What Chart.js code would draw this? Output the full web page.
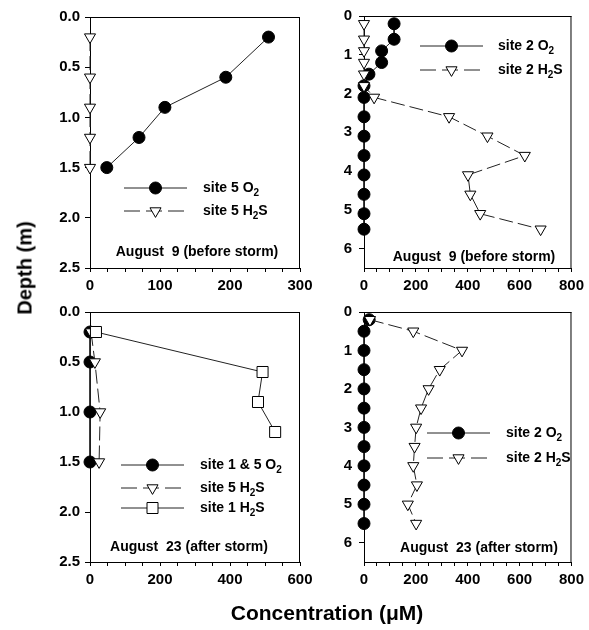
<!DOCTYPE html>
<html>
<head>
<meta charset="utf-8">
<script src="https://cdn.jsdelivr.net/npm/chart.js@4"></script>
<style>
  body { margin: 0; background: #fff; }
  #wrap { position: relative; width: 589px; height: 630px; background: #fff; }
  #wrap canvas { position: absolute; left: 0; top: 0; }
  .titulo { position: absolute; font: bold 20px "Liberation Sans", Arial, sans-serif; color: #000; white-space: nowrap; }
  #yTitle { left: 25px; top: 268px; transform: translate(-50%, -50%) rotate(-90deg); }
  #xTitle { left: 327px; top: 613px; transform: translate(-50%, -50%); font-size: 21px; }
</style>
</head>
<body>
<div id="wrap">
  <canvas id="p1" width="589" height="630"></canvas>
  <canvas id="p2" width="589" height="630"></canvas>
  <canvas id="p3" width="589" height="630"></canvas>
  <canvas id="p4" width="589" height="630"></canvas>
  <div class="titulo" id="yTitle">Depth (m)</div>
  <div class="titulo" id="xTitle">Concentration (μM)</div>
</div>
<script>
// --- datos ---

// arriba izquierda: sitio 5, 9 de agosto
const depthS5Aug9 = [0.2, 0.6, 0.9, 1.2, 1.5];
const o2S5Aug9 = [255, 194, 107, 70, 24];
const h2sS5Aug9 = [0, 0, 0, 0, 0];

// arriba derecha: sitio 2, 9 de agosto
const depthS2Aug9 = [0.2, 0.6, 0.9, 1.2, 1.5, 1.8, 2.1, 2.6, 3.1, 3.6, 4.1, 4.6, 5.1, 5.5];
const o2S2Aug9 = [116, 116, 68, 68, 19, 0, 0, 0, 0, 0, 0, 0, 0, 0];
const h2sS2Aug9 = [0, 0, 0, 0, 0, 0, 39, 328, 476, 620, 401, 410, 448, 681];

// abajo izquierda: sitios 1 y 5, 23 de agosto
const depthS5Aug23 = [0.2, 0.5, 1.0, 1.5];
const o2S15Aug23 = [0, 0, 0, 0];
const h2sS5Aug23 = [3, 14, 29, 26];
const depthS1Aug23 = [0.2, 0.6, 0.9, 1.2];
const h2sS1Aug23 = [17, 493, 480, 529];

// abajo derecha: sitio 2, 23 de agosto
const depthS2Aug23 = [0.2, 0.5, 1.0, 1.5, 2.0, 2.5, 3.0, 3.5, 4.0, 4.5, 5.0, 5.5];
const o2S2Aug23 = [20, 0, 0, 0, 0, 0, 0, 0, 0, 0, 0, 0];
const h2sS2Aug23 = [23, 190, 378, 292, 249, 220, 201, 195, 190, 204, 169, 201];

// ejes
const shallowDepthTicks = [0, 0.5, 1.0, 1.5, 2.0, 2.5];
const deepDepthTicks = [0, 1, 2, 3, 4, 5, 6];
const concTicks300 = [0, 100, 200, 300];
const concTicks600 = [0, 200, 400, 600];
const concTicks800 = [0, 200, 400, 600, 800];

const FONT = '"Liberation Sans", Arial, sans-serif';
const pts = (xs, ys) => ys.map((y, i) => ({ x: xs[i], y }));

const O2 = {
  pointStyle: "circle", pointRadius: 6, pointBackgroundColor: "#000",
  pointBorderColor: "#000", pointBorderWidth: 1, borderColor: "#222", borderWidth: 1,
};
const H2S = {
  pointStyle: "triangle", pointRadius: 6.4, pointRotation: 180, pointBackgroundColor: "#fff",
  pointBorderColor: "#000", pointBorderWidth: 1, borderColor: "#222", borderWidth: 1, borderDash: [14, 5],
};
const SQ = {
  pointStyle: "rect", pointRadius: 7.8, pointBackgroundColor: "#fff",
  pointBorderColor: "#000", pointBorderWidth: 1, borderColor: "#222", borderWidth: 1,
};

function dibujarMarca(ctx, estilo, x, y) {
  ctx.save();
  ctx.setLineDash([]);
  ctx.lineWidth = 1;
  ctx.strokeStyle = "#000";
  ctx.beginPath();
  if (estilo === "circle") {
    ctx.arc(x, y, 6, 0, Math.PI * 2);
    ctx.fillStyle = "#000";
  } else if (estilo === "triangle") {
    const r = 6.4;
    ctx.moveTo(x, y + r);
    ctx.lineTo(x - r * 0.866, y - r / 2);
    ctx.lineTo(x + r * 0.866, y - r / 2);
    ctx.closePath();
    ctx.fillStyle = "#fff";
  } else {
    ctx.rect(x - 5.5, y - 5.5, 11, 11);
    ctx.fillStyle = "#fff";
  }
  ctx.fill();
  ctx.stroke();
  ctx.restore();
}

// marco superior/derecho, leyenda y nota de fecha
const marcoPlugin = {
  id: "marco",
  afterDraw(chart, args, o) {
    const { ctx, chartArea: a } = chart;
    ctx.save();
    ctx.strokeStyle = "#000";
    ctx.lineWidth = 1;
    ctx.beginPath();
    ctx.moveTo(a.left, a.top + 0.5);
    ctx.lineTo(a.right, a.top + 0.5);
    ctx.moveTo(a.right - 0.5, a.top);
    ctx.lineTo(a.right - 0.5, a.bottom);
    ctx.stroke();

    o.filas.forEach((f, i) => {
      const y = a.top + o.y[i];
      ctx.save();
      ctx.strokeStyle = "#222";
      ctx.lineWidth = 1;
      ctx.setLineDash(f.dash ? [16, 6] : []);
      ctx.beginPath();
      ctx.moveTo(a.left + o.x1, y);
      ctx.lineTo(a.left + o.x2, y);
      ctx.stroke();
      ctx.restore();
      dibujarMarca(ctx, f.marca, a.left + (o.x1 + o.x2) / 2, y);

      ctx.fillStyle = "#000";
      ctx.textBaseline = "middle";
      ctx.textAlign = "left";
      let x = a.left + o.xt;
      ctx.font = "bold 14px " + FONT;
      ctx.fillText(f.texto, x, y);
      x += ctx.measureText(f.texto).width;
      ctx.font = "bold 10px " + FONT;
      ctx.fillText("2", x, y + 5);
      x += ctx.measureText("2").width;
      if (f.cola) {
        ctx.font = "bold 14px " + FONT;
        ctx.fillText(f.cola, x, y);
      }
    });

    ctx.font = "bold 14px " + FONT;
    ctx.textAlign = "center";
    ctx.textBaseline = "middle";
    ctx.fillStyle = "#000";
    ctx.fillText(o.nota, a.left + o.notaX, a.top + o.notaY);
    ctx.restore();
  },
};

function escalaX(max, paso, mayores) {
  return {
    type: "linear", min: 0, max,
    afterBuildTicks: (s) => {
      const t = [];
      for (let v = 0; v <= max; v += paso) t.push({ value: v });
      s.ticks = t;
    },
    ticks: {
      autoSkip: false, maxRotation: 0, padding: 5, color: "#000",
      font: { family: FONT, size: 15, weight: "bold" },
      callback: (v) => (mayores.includes(v) ? String(v) : ""),
    },
    grid: { drawOnChartArea: false, tickLength: 4, color: "#000" },
    border: { color: "#000", width: 1 },
    afterFit: (s) => { s.height = 30; },
  };
}

function escalaY(max, marcas, dec, pad) {
  return {
    type: "linear", reverse: true, min: 0, max,
    afterBuildTicks: (s) => { s.ticks = marcas.map((v) => ({ value: v })); },
    ticks: {
      padding: pad, color: "#000",
      font: { family: FONT, size: 15, weight: "bold" },
      callback: (v) => Number(v).toFixed(dec),
    },
    grid: { drawOnChartArea: false, tickLength: 5, color: "#000" },
    border: { color: "#000", width: 1 },
    afterFit: (s) => { s.width = 45; },
  };
}

function panel(id, area, datasets, x, y, marco) {
  new Chart(document.getElementById(id), {
    type: "scatter",
    data: { datasets: datasets.map((d) => ({ showLine: true, clip: false, ...d })) },
    options: {
      responsive: false, animation: false, events: [],
      layout: {
        padding: { left: area.l - 45, top: area.t, right: 589 - area.r, bottom: 630 - area.b - 30 },
      },
      scales: { x, y },
      plugins: { legend: { display: false }, tooltip: { enabled: false }, marco },
    },
    plugins: [marcoPlugin],
  });
}

panel("p1", { l: 90, r: 300, t: 17, b: 268 }, [
  { ...H2S, data: pts(h2sS5Aug9, depthS5Aug9) },
  { ...O2, data: pts(o2S5Aug9, depthS5Aug9) },
], escalaX(300, 25, concTicks300), escalaY(2.5, shallowDepthTicks, 1, 5), {
  x1: 34, x2: 97, xt: 113, y: [171, 194],
  filas: [
    { marca: "circle", dash: false, texto: "site 5 O" },
    { marca: "triangle", dash: true, texto: "site 5 H", cola: "S" },
  ],
  nota: "August  9 (before storm)", notaX: 107, notaY: 235,
});

panel("p2", { l: 364, r: 574, t: 16, b: 268 }, [
  { ...H2S, data: pts(h2sS2Aug9, depthS2Aug9) },
  { ...O2, data: pts(o2S2Aug9, depthS2Aug9) },
], escalaX(800, 50, concTicks800), escalaY(6.5, deepDepthTicks, 0, 7), {
  x1: 56, x2: 119, xt: 134, y: [30, 54],
  filas: [
    { marca: "circle", dash: false, texto: "site 2 O" },
    { marca: "triangle", dash: true, texto: "site 2 H", cola: "S" },
  ],
  nota: "August  9 (before storm)", notaX: 110, notaY: 241,
});

panel("p3", { l: 90, r: 300, t: 312, b: 562 }, [
  { ...SQ, data: pts(h2sS1Aug23, depthS1Aug23) },
  { ...H2S, data: pts(h2sS5Aug23, depthS5Aug23) },
  { ...O2, data: pts(o2S15Aug23, depthS5Aug23) },
], escalaX(600, 50, concTicks600), escalaY(2.5, shallowDepthTicks, 1, 5), {
  x1: 31, x2: 94, xt: 110, y: [153, 176, 196],
  filas: [
    { marca: "circle", dash: false, texto: "site 1 & 5 O" },
    { marca: "triangle", dash: true, texto: "site 5 H", cola: "S" },
    { marca: "rect", dash: false, texto: "site 1 H", cola: "S" },
  ],
  nota: "August  23 (after storm)", notaX: 99, notaY: 235,
});

panel("p4", { l: 364, r: 574, t: 312, b: 562 }, [
  { ...H2S, data: pts(h2sS2Aug23, depthS2Aug23) },
  { ...O2, data: pts(o2S2Aug23, depthS2Aug23) },
], escalaX(800, 50, concTicks800), escalaY(6.5, deepDepthTicks, 0, 7), {
  x1: 63, x2: 126, xt: 142, y: [121, 146],
  filas: [
    { marca: "circle", dash: false, texto: "site 2 O" },
    { marca: "triangle", dash: true, texto: "site 2 H", cola: "S" },
  ],
  nota: "August  23 (after storm)", notaX: 115, notaY: 236,
});
</script>
</body>
</html>
